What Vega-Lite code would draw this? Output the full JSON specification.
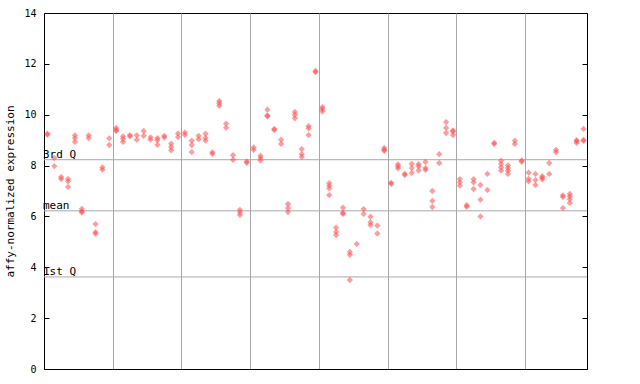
{
  "$schema": "https://vega.github.io/schema/vega-lite/v6.json",
  "width": 543,
  "height": 356,
  "autosize": {"type": "none"},
  "padding": {"left": 44, "top": 13, "right": 53, "bottom": 15},
  "config": {"view": {"stroke": "black", "strokeWidth": 1}, "font": "DejaVu Sans Mono"},
  "resolve": {"axis": {"y": "independent"}},
  "datasets": {
    "pts": [
      {"s":1,"v":9.25},{"s":1,"v":9.22},
      {"s":2,"v":8.30},{"s":2,"v":7.98},
      {"s":3,"v":7.55},{"s":3,"v":7.47},
      {"s":4,"v":7.47},{"s":4,"v":7.38},{"s":4,"v":7.16},
      {"s":5,"v":9.19},{"s":5,"v":9.08},{"s":5,"v":8.93},
      {"s":6,"v":6.30},{"s":6,"v":6.20},{"s":6,"v":6.15},
      {"s":7,"v":9.19},{"s":7,"v":9.08},
      {"s":8,"v":5.70},{"s":8,"v":5.38},{"s":8,"v":5.32},
      {"s":9,"v":7.93},{"s":9,"v":7.84},
      {"s":10,"v":9.07},{"s":10,"v":8.81},
      {"s":11,"v":9.48},{"s":11,"v":9.40},{"s":11,"v":9.36},
      {"s":12,"v":9.15},{"s":12,"v":9.05},{"s":12,"v":8.93},
      {"s":13,"v":9.20},{"s":13,"v":9.15},
      {"s":14,"v":9.19},{"s":14,"v":9.02},
      {"s":15,"v":9.36},{"s":15,"v":9.17},
      {"s":16,"v":9.11},{"s":16,"v":9.02},
      {"s":17,"v":9.08},{"s":17,"v":9.00},{"s":17,"v":8.82},
      {"s":18,"v":9.17},{"s":18,"v":9.10},
      {"s":19,"v":8.86},{"s":19,"v":8.73},{"s":19,"v":8.60},
      {"s":20,"v":9.26},{"s":20,"v":9.12},
      {"s":21,"v":9.30},{"s":21,"v":9.21},
      {"s":22,"v":8.98},{"s":22,"v":8.81},{"s":22,"v":8.53},
      {"s":23,"v":9.17},{"s":23,"v":9.04},
      {"s":24,"v":9.25},{"s":24,"v":9.08},{"s":24,"v":8.98},
      {"s":25,"v":8.52},{"s":25,"v":8.46},
      {"s":26,"v":10.54},{"s":26,"v":10.45},{"s":26,"v":10.35},
      {"s":27,"v":9.65},{"s":27,"v":9.49},
      {"s":28,"v":8.41},{"s":28,"v":8.23},
      {"s":29,"v":6.26},{"s":29,"v":6.16},{"s":29,"v":6.06},
      {"s":30,"v":8.16},{"s":30,"v":8.11},
      {"s":31,"v":8.71},{"s":31,"v":8.62},
      {"s":32,"v":8.39},{"s":32,"v":8.30},{"s":32,"v":8.20},
      {"s":33,"v":10.20},{"s":33,"v":9.97},{"s":33,"v":9.94},
      {"s":34,"v":9.44},{"s":34,"v":9.40},
      {"s":35,"v":9.02},{"s":35,"v":8.85},
      {"s":36,"v":6.49},{"s":36,"v":6.33},{"s":36,"v":6.17},
      {"s":37,"v":10.11},{"s":37,"v":10.00},{"s":37,"v":9.86},
      {"s":38,"v":8.65},{"s":38,"v":8.45},{"s":38,"v":8.34},
      {"s":39,"v":9.55},{"s":39,"v":9.46},{"s":39,"v":9.20},
      {"s":40,"v":11.72},{"s":40,"v":11.68},
      {"s":41,"v":10.30},{"s":41,"v":10.22},{"s":41,"v":10.13},
      {"s":42,"v":7.31},{"s":42,"v":7.21},{"s":42,"v":7.10},{"s":42,"v":6.84},
      {"s":43,"v":5.56},{"s":43,"v":5.39},{"s":43,"v":5.27},
      {"s":44,"v":6.34},{"s":44,"v":6.14},{"s":44,"v":6.10},
      {"s":45,"v":4.60},{"s":45,"v":4.49},{"s":45,"v":3.50},
      {"s":46,"v":4.92},
      {"s":47,"v":6.29},{"s":47,"v":6.10},
      {"s":48,"v":5.99},{"s":48,"v":5.77},{"s":48,"v":5.66},
      {"s":49,"v":5.64},{"s":49,"v":5.33},
      {"s":50,"v":8.69},{"s":50,"v":8.62},{"s":50,"v":8.58},
      {"s":51,"v":7.32},{"s":51,"v":7.28},
      {"s":52,"v":8.05},{"s":52,"v":7.97},{"s":52,"v":7.89},
      {"s":53,"v":7.67},{"s":53,"v":7.63},
      {"s":54,"v":8.07},{"s":54,"v":7.90},{"s":54,"v":7.71},
      {"s":55,"v":8.06},{"s":55,"v":7.97},{"s":55,"v":7.81},
      {"s":56,"v":8.14},{"s":56,"v":7.90},{"s":56,"v":7.83},
      {"s":57,"v":7.00},{"s":57,"v":6.61},{"s":57,"v":6.37},
      {"s":58,"v":8.45},{"s":58,"v":8.10},
      {"s":59,"v":9.71},{"s":59,"v":9.48},{"s":59,"v":9.28},
      {"s":60,"v":9.38},{"s":60,"v":9.34},{"s":60,"v":9.20},
      {"s":61,"v":7.47},{"s":61,"v":7.34},{"s":61,"v":7.21},
      {"s":62,"v":6.44},{"s":62,"v":6.38},
      {"s":63,"v":7.47},{"s":63,"v":7.34},{"s":63,"v":7.08},
      {"s":64,"v":7.24},{"s":64,"v":6.66},{"s":64,"v":6.00},
      {"s":65,"v":7.67},{"s":65,"v":7.04},
      {"s":66,"v":8.89},{"s":66,"v":8.85},
      {"s":67,"v":8.19},{"s":67,"v":8.06},{"s":67,"v":7.93},{"s":67,"v":7.80},
      {"s":68,"v":8.01},{"s":68,"v":7.90},{"s":68,"v":7.80},{"s":68,"v":7.67},
      {"s":69,"v":8.98},{"s":69,"v":8.85},
      {"s":70,"v":8.20},{"s":70,"v":8.15},
      {"s":71,"v":7.72},{"s":71,"v":7.48},{"s":71,"v":7.38},
      {"s":72,"v":7.67},{"s":72,"v":7.43},{"s":72,"v":7.24},
      {"s":73,"v":7.58},{"s":73,"v":7.52},{"s":73,"v":7.46},
      {"s":74,"v":8.10},{"s":74,"v":7.67},
      {"s":75,"v":8.62},{"s":75,"v":8.53},
      {"s":76,"v":6.83},{"s":76,"v":6.76},{"s":76,"v":6.33},
      {"s":77,"v":6.89},{"s":77,"v":6.79},{"s":77,"v":6.68},{"s":77,"v":6.53},
      {"s":78,"v":9.00},{"s":78,"v":8.96},{"s":78,"v":8.89},
      {"s":79,"v":9.44},{"s":79,"v":9.01},{"s":79,"v":8.97}
    ],
    "refs": [
      {"label":"3rd Q","v":8.23},
      {"label":"mean","v":6.22},
      {"label":"1st Q","v":3.62}
    ]
  },
  "layer": [
    {
      "data": {"name": "refs"},
      "mark": {"type": "rule", "color": "#a8a8a8", "strokeWidth": 1},
      "encoding": {
        "y": {
          "field": "v", "type": "quantitative",
          "scale": {"domain": [0, 14], "nice": false},
          "axis": {
            "orient": "right", "title": null, "labels": false,
            "values": [0, 2, 4, 6, 8, 10, 12, 14],
            "offset": -5, "tickSize": 5, "tickColor": "black", "tickWidth": 1,
            "grid": false, "domain": false, "zindex": 2
          }
        }
      }
    },
    {
      "data": {"name": "pts"},
      "mark": {"type": "point", "shape": "diamond", "filled": true, "size": 40, "color": "#ff4d4d", "opacity": 0.55},
      "encoding": {
        "x": {
          "field": "s", "type": "quantitative",
          "scale": {"domain": [0.5, 79.5], "nice": false, "zero": false},
          "axis": {
            "title": null, "labels": false, "ticks": false,
            "values": [10.5, 20.5, 30.5, 40.5, 50.5, 60.5, 70.5],
            "grid": true, "gridColor": "#a8a8a8", "gridOpacity": 1, "gridWidth": 1,
            "domainColor": "black", "domainWidth": 1
          }
        },
        "y": {
          "field": "v", "type": "quantitative",
          "scale": {"domain": [0, 14], "nice": false},
          "axis": {
            "orient": "left",
            "title": "affy-normalized expression",
            "titleFont": "DejaVu Sans Mono", "titleFontSize": 11, "titleFontWeight": "normal",
            "titleColor": "black", "titlePadding": 8,
            "values": [0, 2, 4, 6, 8, 10, 12, 14],
            "labelFont": "DejaVu Sans Mono", "labelFontSize": 10, "labelColor": "black",
            "offset": -5, "tickSize": 5, "tickColor": "black", "tickWidth": 1, "labelPadding": 8,
            "grid": false, "domain": false, "zindex": 2
          }
        }
      }
    },
    {
      "data": {"name": "refs"},
      "mark": {"type": "text", "align": "left", "baseline": "bottom", "dx": -1, "font": "DejaVu Sans Mono", "fontSize": 11, "color": "black"},
      "encoding": {
        "x": {"datum": 0.5, "type": "quantitative"},
        "y": {"field": "v", "type": "quantitative", "axis": null},
        "text": {"field": "label"}
      }
    }
  ]
}
